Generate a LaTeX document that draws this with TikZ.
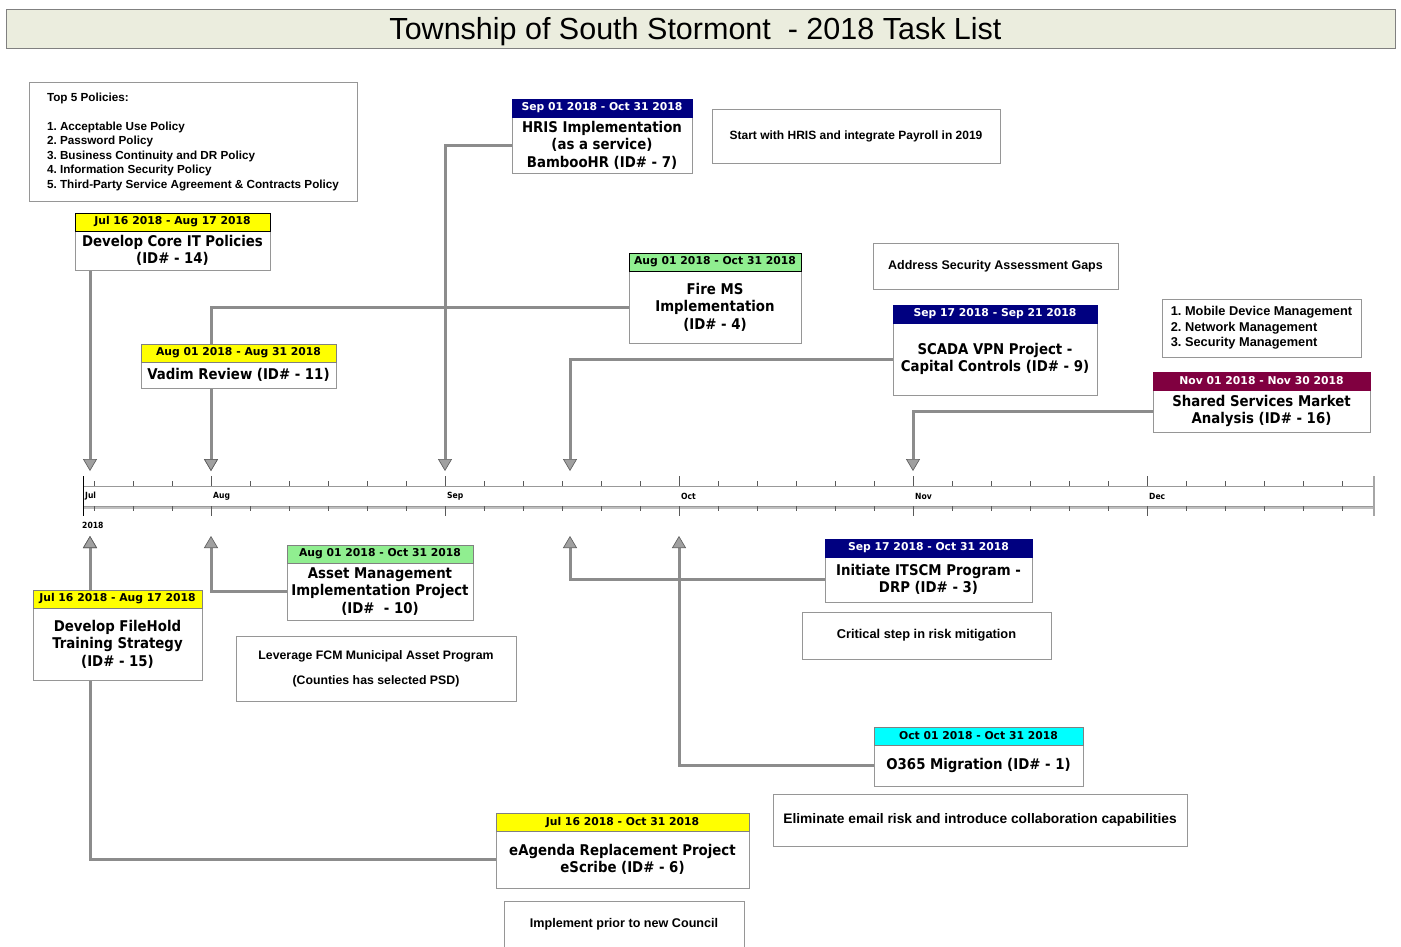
\documentclass[tikz,border=0pt]{standalone}
\usepackage{fontspec}
\setmainfont{Liberation Sans}
\newfontfamily\verd{DejaVu Sans}
\newfontfamily\cond{DejaVu Sans Condensed}
\usetikzlibrary{arrows.meta}
\pgfdeclarelayer{bg}
\pgfsetlayers{bg,main}
\definecolor{titlebg}{RGB}{235,237,222}
\definecolor{hyellow}{RGB}{255,255,0}
\definecolor{hnavy}{RGB}{0,0,128}
\definecolor{hgreen}{RGB}{144,238,144}
\definecolor{hcyan}{RGB}{0,255,255}
\definecolor{hmaroon}{RGB}{128,0,64}
\definecolor{conngray}{RGB}{140,140,140}
\definecolor{tipgray}{RGB}{160,160,160}
\definecolor{boxgray}{RGB}{150,150,150}
\begin{document}
\begin{tikzpicture}[x=1pt,y=-1pt,
  hdr/.style={draw=black, line width=0.8, inner sep=0, minimum height=18,
    font=\verd\bfseries\fontsize{10.8}{12}\selectfont},
  body/.style={draw=boxgray, fill=white, line width=0.8, inner sep=0, align=center,
    font=\cond\bfseries\fontsize{14.8}{17.5}\selectfont},
  note/.style={draw=boxgray, fill=white, line width=1, inner sep=0, align=center,
    font=\bfseries\fontsize{12.5}{14.5}\selectfont},
  conn/.style={draw=conngray, line width=3,
    -{Triangle[width=14pt,length=12pt,fill=tipgray,color=gray!70!black,line width=0.6pt]}},
  mlabel/.style={anchor=west, inner sep=0, font=\cond\bfseries\fontsize{8.5}{10}\selectfont}
]
\useasboundingbox (0,0) rectangle (1401,946);

% title
\node[draw=gray, fill=titlebg, line width=1, minimum width=1389, minimum height=39, inner sep=0,
  text depth=0pt, font=\fontsize{30.5}{34}\selectfont] (title) at (700.5,28.5) {\hspace*{-10pt}Township of South Stormont \ - 2018 Task List};

% timeline
\fill[white] (83,486) rectangle (1374,506);
\draw[gray!80, line width=0.8] (83,486) -- (1374,486);
\draw[gray!50, line width=3] (83,507.5) -- (1374,507.5);
\draw[gray!80, line width=1] (83,506) -- (1374,506);
\foreach \i in {0,...,32} {
  \draw[gray!70!black, line width=0.6] (94+39*\i,481) -- (94+39*\i,486);
  \draw[gray!70!black, line width=0.6] (94+39*\i,506) -- (94+39*\i,511);
}
\foreach \x in {211,445,679,913,1147} {
  \draw[gray!70!black, line width=0.7] (\x,476) -- (\x,486);
  \draw[gray!70!black, line width=0.7] (\x,506) -- (\x,516);
}
\draw[black, line width=1] (83,476) -- (83,516);
\draw[gray!70, line width=2.5] (1374,476) -- (1374,516);
\node[mlabel] (mJul) at (85,496) {Jul};
\node[mlabel] (mAug) at (213,496) {Aug};
\node[mlabel] (mSep) at (447,496) {Sep};
\node[mlabel] (mOct) at (681,496) {Oct};
\node[mlabel] (mNov) at (915,496) {Nov};
\node[mlabel] (mDec) at (1149,496) {Dec};
\node[mlabel] (year) at (82,525) {2018};

% arrow tips
\coordinate (tJul) at (90,471);
\coordinate (tAug) at (211,471);
\coordinate (tSep) at (445,471);
\coordinate (tS17) at (570,471);
\coordinate (tNov) at (913,471);
\coordinate (bJul) at (90,536);
\coordinate (bAug) at (211,536);
\coordinate (bS17) at (570,536);
\coordinate (bOct) at (679,536);

% notes
\node[note, align=left, minimum width=328, minimum height=119,
  font=\bfseries\fontsize{11.7}{14.5}\selectfont] (n5) at (193,141.5)
  {Top 5 Policies:\\[14.5pt]
   1.\ Acceptable Use Policy\\
   2.\ Password Policy\\
   3.\ Business Continuity and DR Policy\\
   4.\ Information Security Policy\\
   5.\ Third-Party Service Agreement \& Contracts Policy};
\node[note, font=\bfseries\fontsize{12}{14.5}\selectfont, minimum width=288, minimum height=54] (nHR) at (856,136) {Start with HRIS and integrate Payroll in 2019};
\node[note, minimum width=245, minimum height=46] (nSec) at (995.5,266) {Address Security Assessment Gaps};
\node[note, align=left, minimum width=199, minimum height=58,
  font=\bfseries\fontsize{12.8}{15.5}\selectfont] (nMgmt) at (1261.5,328)
  {1.\ Mobile Device Management\\ 2.\ Network Management\\ 3.\ Security Management};
\node[note, font=\bfseries\fontsize{12.3}{14.5}\selectfont, minimum width=280, minimum height=65] (nFCM) at (376,668.5)
  {Leverage FCM Municipal Asset Program\\[10.5pt](Counties has selected PSD)};
\node[note, font=\bfseries\fontsize{12.8}{14.5}\selectfont, minimum width=249, minimum height=47] (nCrit) at (926.5,635.5) {Critical step in risk mitigation};
\node[note, font=\bfseries\fontsize{13.8}{16}\selectfont, minimum width=414, minimum height=52] (nMail) at (980,820)
  {Eliminate email risk and introduce collaboration capabilities};
\node[note, font=\bfseries\fontsize{12.6}{14.5}\selectfont, minimum width=240, minimum height=46] (nCouncil) at (624,924) {Implement prior to new Council};

% tasks
\node[body, minimum width=195, minimum height=39] (b14) at (172.5,250.5) {Develop Core IT Policies\\(ID\# - 14)};
\node[hdr, fill=hyellow, minimum width=195] (h14) at (172.5,222) {Jul 16 2018 - Aug 17 2018};

\node[body, minimum width=180, minimum height=56] (b7) at (602,145) {HRIS Implementation\\(as a service)\\BambooHR (ID\# - 7)};
\node[hdr, fill=hnavy, draw=hnavy, text=white, minimum width=180] (h7) at (602,108) {Sep 01 2018 - Oct 31 2018};

\node[body, minimum width=172, minimum height=72] (b4) at (715,307) {Fire MS\\Implementation\\(ID\# - 4)};
\node[hdr, fill=hgreen, minimum width=172] (h4) at (715,262) {Aug 01 2018 - Oct 31 2018};

\node[body, minimum width=204, minimum height=72] (b9) at (995,359) {SCADA VPN Project -\\Capital Controls (ID\# - 9)};
\node[hdr, fill=hnavy, draw=hnavy, text=white, minimum width=204] (h9) at (995,314) {Sep 17 2018 - Sep 21 2018};

\node[body, minimum width=217, minimum height=42] (b16) at (1261.5,411) {Shared Services Market\\Analysis (ID\# - 16)};
\node[hdr, fill=hmaroon, draw=hmaroon, text=white, minimum width=217] (h16) at (1261.5,381) {Nov 01 2018 - Nov 30 2018};

\node[body, minimum width=195, minimum height=26] (b11) at (238.5,375) {Vadim Review (ID\# - 11)};
\node[hdr, fill=hyellow, draw=gray, minimum width=195] (h11) at (238.5,353) {Aug 01 2018 - Aug 31 2018};

\node[body, minimum width=169, minimum height=72] (b15) at (117.5,644) {Develop FileHold\\Training Strategy\\(ID\# - 15)};
\node[hdr, fill=hyellow, draw=gray, minimum width=169] (h15) at (117.5,599) {Jul 16 2018 - Aug 17 2018};

\node[body, minimum width=186, minimum height=57] (b10) at (380,591.5) {Asset Management\\Implementation Project\\(ID\# \ - 10)};
\node[hdr, fill=hgreen, draw=gray, minimum width=186] (h10) at (380,554) {Aug 01 2018 - Oct 31 2018};

\node[body, minimum width=207, minimum height=45] (b3) at (928.5,579.5) {Initiate ITSCM Program -\\DRP (ID\# - 3)};
\node[hdr, fill=hnavy, draw=hnavy, text=white, minimum width=207] (h3) at (928.5,548) {Sep 17 2018 - Oct 31 2018};

\node[body, minimum width=209, minimum height=41] (b1) at (978.5,765.5) {O365 Migration (ID\# - 1)};
\node[hdr, fill=hcyan, draw=gray, minimum width=209] (h1) at (978.5,736) {Oct 01 2018 - Oct 31 2018};

\node[body, minimum width=253, minimum height=57] (b6) at (622.5,859.5) {eAgenda Replacement Project\\eScribe (ID\# - 6)};
\node[hdr, fill=hyellow, draw=gray, minimum width=253] (h6) at (622.5,822) {Jul 16 2018 - Oct 31 2018};

% connectors
\begin{pgfonlayer}{bg}
\draw[conn] (b14.south -| tJul) -- (tJul);
\draw[conn] (b11.south -| tAug) -- (tAug);
\draw[conn] (b4.west) -| (tAug);
\draw[conn] (b7.west) -| (tSep);
\draw[conn] (b9.west) -| (tS17);
\draw[conn] (b16.west) -| (tNov);
\draw[conn] (h15.north -| bJul) -- (bJul);
\draw[conn] (b6.west) -| (bJul);
\draw[conn] (b10.west) -| (bAug);
\draw[conn] (b3.west) -| (bS17);
\draw[conn] (b1.west) -| (bOct);
\end{pgfonlayer}
\end{tikzpicture}
\end{document}
